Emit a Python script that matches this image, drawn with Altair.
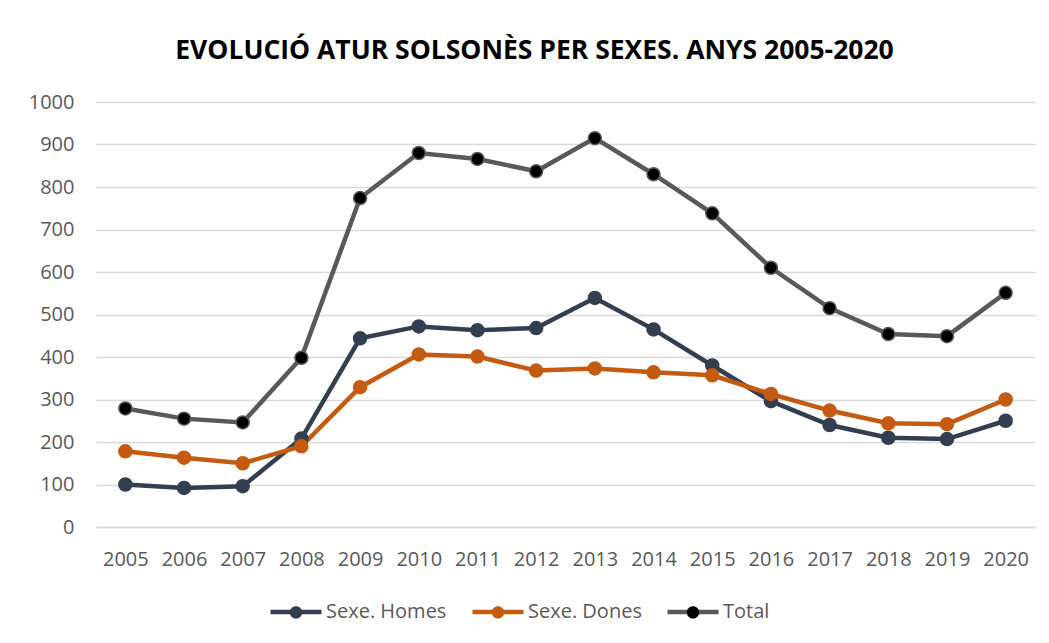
import altair as alt
import pandas as pd

years = [2005, 2006, 2007, 2008, 2009, 2010, 2011, 2012, 2013, 2014, 2015, 2016, 2017, 2018, 2019, 2020]
homes = [100, 92, 96, 208, 444, 472, 463, 468, 539, 465, 380, 296, 240, 210, 207, 250]
dones = [178, 163, 150, 190, 329, 406, 401, 368, 373, 364, 357, 313, 274, 244, 242, 300]
total = [279, 255, 246, 398, 774, 880, 866, 837, 915, 830, 738, 610, 515, 454, 449, 551]

series_names = ["Sexe. Homes", "Sexe. Dones", "Total"]
line_colors = ["#333F50", "#C55A11", "#595959"]
point_fills = ["#333F50", "#C55A11", "#000000"]
y_ticks = [0, 100, 200, 300, 400, 500, 600, 700, 800, 900, 1000]

rows = []
for name, vals in zip(series_names, [homes, dones, total]):
    for yr, v in zip(years, vals):
        rows.append({"Any": str(yr), "Serie": name, "Marcador": name, "Valor": v})
df = pd.DataFrame(rows)

FONT = "Open Sans"
LABEL_COLOR = "#595959"
GRID = "#D9D9D9"
LEG_X = 172
LEG_Y = 482
COL_PAD = 16

x_enc = alt.X("Any:O", title=None,
              axis=alt.Axis(labelAngle=0, ticks=False, domain=True, domainColor=GRID,
                            domainWidth=1.3, labelFont=FONT, labelFontSize=20,
                            labelColor=LABEL_COLOR, labelPadding=22))
y_enc = alt.Y("Valor:Q", title=None,
              scale=alt.Scale(domain=[0, 1000], nice=False),
              axis=alt.Axis(values=y_ticks, format="d", grid=True, gridColor=GRID,
                            gridWidth=1.3, domain=False, ticks=False, labelFont=FONT,
                            labelFontSize=20, labelColor=LABEL_COLOR, labelPadding=22))

# both legend symbols span the same box (-1..1) with the same stroke width,
# so both legends lay out alike and the dots sit on the lines
line_path = "M-1,0L1,0"
dot_path = ("M-1,0L-1,0M1,0L1,0"
            "M0.24,0A0.24,0.24 0 1,1 -0.24,0A0.24,0.24 0 1,1 0.24,0Z")

lines = alt.Chart(df).mark_line(strokeWidth=4.5).encode(
    x=x_enc, y=y_enc,
    color=alt.Color("Serie:N", sort=series_names,
                    scale=alt.Scale(domain=series_names, range=line_colors),
                    legend=alt.Legend(title=None, orient="none", direction="horizontal",
                                      legendX=LEG_X, legendY=LEG_Y, columns=3,
                                      symbolType=line_path, symbolSize=2601,
                                      symbolStrokeWidth=4.5, labelFont=FONT,
                                      labelFontSize=20, labelColor=LABEL_COLOR,
                                      labelOffset=2, columnPadding=COL_PAD, zindex=1)),
    detail="Serie:N",
)

points = alt.Chart(df).mark_point(filled=True, size=169, opacity=1, strokeWidth=1.5).encode(
    x=x_enc, y=y_enc,
    fill=alt.Fill("Marcador:N", sort=series_names,
                  scale=alt.Scale(range=point_fills),
                  legend=alt.Legend(title=None, orient="none", direction="horizontal",
                                    legendX=LEG_X, legendY=LEG_Y, columns=3,
                                    symbolType=dot_path, symbolSize=2601,
                                    symbolStrokeWidth=4.5, symbolStrokeColor="transparent",
                                    symbolOpacity=1,
                                    labelFont=FONT, labelFontSize=20,
                                    labelColor=LABEL_COLOR, labelOpacity=0,
                                    labelOffset=2, columnPadding=COL_PAD, zindex=2)),
    stroke=alt.Stroke("Serie:N", sort=series_names,
                      scale=alt.Scale(domain=series_names, range=line_colors),
                      legend=None),
)

chart = alt.layer(lines, points).properties(
    width=939, height=425,
    padding={"left": 88, "top": 94, "right": 6, "bottom": 100},
    autosize=alt.AutoSizeParams(type="none"),
    title=alt.TitleParams(
        "EVOLUCIÓ ATUR SOLSONÈS PER SEXES. ANYS 2005-2020",
        font=FONT, fontSize=26.5, fontWeight="bold",
        color="#000000", anchor="middle", offset=28, dx=-31),
).configure_view(stroke=None)

chart.save("out.html", embed_options={"renderer": "svg", "actions": False})
